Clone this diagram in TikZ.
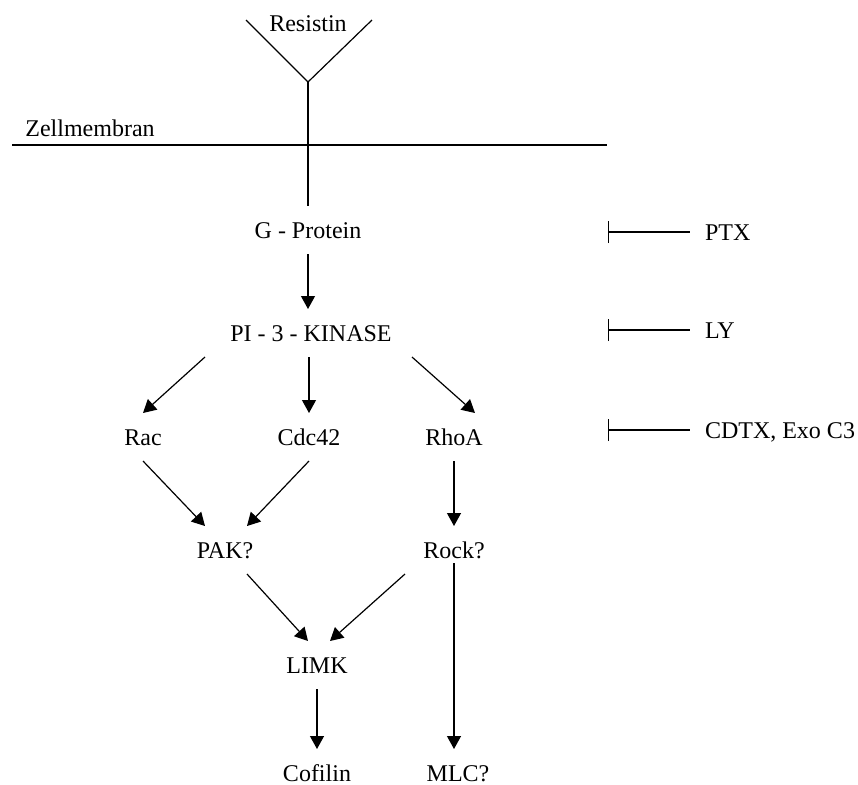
\documentclass[tikz,border=0pt]{standalone}
\usepackage{fontspec}
\setmainfont{Liberation Serif}
\usetikzlibrary{arrows.meta}

\tikzset{
  mol/.style={inner xsep=0pt, inner ysep=0pt, outer xsep=0pt, outer ysep=8pt,
    text height=8pt, text depth=0pt},
  arr/.style={-{Triangle[length=6.5pt,width=7pt]}},
  hemm/.style={{Bar[width=11pt]}-},
}

\begin{document}
\begin{tikzpicture}[x=0.5pt,y=-0.5pt,line width=0.6pt,font=\fontsize{12}{14}\selectfont]
    \useasboundingbox (0,0) rectangle (858,784);
    % receptor and membrane
    \node[mol] (res) at (308,23) {Resistin};
    \coordinate (vtip) at (308,82);
    \draw (246,20) -- (vtip) -- (372,20);
    \node[mol] (zell) at (90,128) {Zellmembran};
    \draw (12,145) -- (607,145);
    % signalling cascade
    \node[mol] (gp)   at (308,230) {G - Protein};
    \node[mol] (pik)  at (311,333) {PI - 3 - KINASE};
    \node[mol] (rac)  at (143,437) {Rac};
    \node[mol] (cdc)  at (309,437) {Cdc42};
    \node[mol] (rho)  at (454,437) {RhoA};
    \node[mol] (pak)  at (225,550) {PAK?};
    \node[mol] (rock) at (454,550) {Rock?};
    \node[mol] (limk) at (317,665) {LIMK};
    \node[mol] (cof)  at (317,773) {Cofilin};
    \node[mol] (mlc)  at (458,773) {MLC?};
    \draw (vtip) -- (gp.north);
    \draw[arr] (gp.south) -- (gp.south |- pik.north);
    \draw[arr] ([xshift=-53pt]pik.south) -- (rac.north);
    \draw[arr] ([xshift=-1pt]pik.south) -- (cdc.north);
    \draw[arr] ([xshift=50.5pt]pik.south) -- ([xshift=10.5pt]rho.north);
    \draw[arr] (rac.south) -- ([xshift=-10pt]pak.north);
    \draw[arr] (cdc.south) -- ([xshift=11pt]pak.north);
    \draw[arr] (rho.south) -- (rock.north);
    \draw[arr] ([xshift=11pt]pak.south) -- ([xshift=-4.5pt]limk.north);
    \draw[arr] ([xshift=-24.5pt]rock.south) -- ([xshift=6.5pt]limk.north);
    \draw[arr] (limk.south) -- (cof.north);
    \draw[arr] ([yshift=5.5pt]rock.south) -- (rock.south |- mlc.north);
    % inhibitors
    \node[mol,anchor=west] (ptx)  at (705,232) {PTX};
    \node[mol,anchor=west] (ly)   at (705,330) {LY};
    \node[mol,anchor=west] (cdtx) at (705,430) {CDTX, Exo C3};
    \coordinate (barptx)  at (608,232);
    \coordinate (barly)   at (608,330);
    \coordinate (barcdtx) at (608,430);
    \draw[hemm] (barptx)  -- ([xshift=-7.5pt]ptx.west);
    \draw[hemm] (barly)   -- ([xshift=-7.5pt]ly.west);
    \draw[hemm] (barcdtx) -- ([xshift=-7.5pt]cdtx.west);
\end{tikzpicture}
\end{document}
